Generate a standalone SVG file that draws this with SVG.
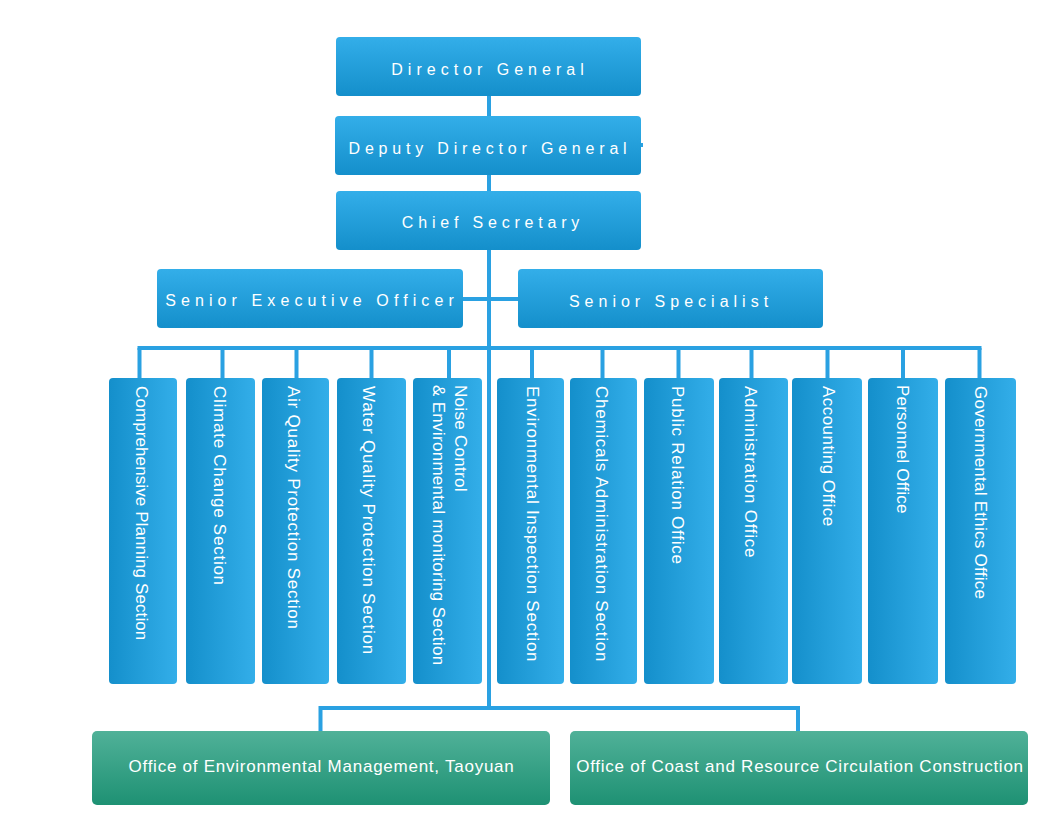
<svg xmlns="http://www.w3.org/2000/svg" width="1057" height="835" viewBox="0 0 1057 835">
<defs>
<linearGradient id="gTop" x1="0" y1="0" x2="0" y2="1"><stop offset="0" stop-color="#33aee9"/><stop offset="1" stop-color="#148fcb"/></linearGradient>
<linearGradient id="gCol" x1="0" y1="0" x2="1" y2="0"><stop offset="0" stop-color="#148fcb"/><stop offset="1" stop-color="#33aee9"/></linearGradient>
<linearGradient id="gGreen" x1="0" y1="0" x2="0" y2="1"><stop offset="0" stop-color="#50b198"/><stop offset="1" stop-color="#1e9173"/></linearGradient>
</defs>
<style>
.top{fill:url(#gTop)}
.col{fill:url(#gCol)}
.grn{fill:url(#gGreen)}
.t{font-family:"Liberation Sans",Arial,sans-serif;fill:#fff}
.ht{font-size:16px;letter-spacing:5px;text-anchor:middle}
.vt{font-size:17px;letter-spacing:0.75px}
.gt{font-size:17px;letter-spacing:0.75px;text-anchor:middle}
.ln{stroke:#2aa1e2;stroke-width:4;fill:none}
</style>
<rect width="1057" height="835" fill="#fff"/>
<g id="connectors">
<line class="ln" x1="489" y1="96" x2="489" y2="708"/>
<line class="ln" x1="463" y1="299" x2="518" y2="299"/>
<line class="ln" x1="137.5" y1="348" x2="981.5" y2="348"/>
<path class="ln" d="M139.5 348V378M222.5 348V378M296.5 348V378M371.5 348V378M449 348V378M532 348V378M602.5 348V378M678.5 348V378M751.5 348V378M827.5 348V378M903 348V378M979.5 348V378"/>
<path class="ln" d="M320.5 731V708H798V731"/>
<rect x="641" y="143" width="2" height="4" fill="#2aa1e2"/>
</g>
<g id="director-general"><rect class="top" x="336" y="37" width="305" height="59" rx="4"/><text class="t ht" x="490" y="75">Director General</text></g>
<g id="deputy-director-general"><rect class="top" x="335" y="116" width="306" height="59" rx="4"/><text class="t ht" style="letter-spacing:4.8px" x="490" y="154">Deputy Director General</text></g>
<g id="chief-secretary"><rect class="top" x="336" y="191" width="305" height="59" rx="4"/><text class="t ht" style="letter-spacing:4.8px" x="493" y="228">Chief Secretary</text></g>
<g id="senior-executive-officer"><rect class="top" x="157" y="269" width="306" height="59" rx="4"/><text class="t ht" style="letter-spacing:5.1px" x="312" y="306">Senior Executive Officer</text></g>
<g id="senior-specialist"><rect class="top" x="518" y="269" width="305" height="59" rx="4"/><text class="t ht" x="671" y="307">Senior Specialist</text></g>
<g id="s1"><rect class="col" x="109" y="378" width="68" height="306" rx="4"/><text class="t vt" style="letter-spacing:0.1px" transform="translate(136,386) rotate(90)">Comprehensive Planning Section</text></g>
<g id="s2"><rect class="col" x="186" y="378" width="69" height="306" rx="4"/><text class="t vt" transform="translate(214,386) rotate(90)">Climate Change Section</text></g>
<g id="s3"><rect class="col" x="262" y="378" width="67" height="306" rx="4"/><text class="t vt" transform="translate(288,386) rotate(90)">Air Quality Protection Section</text></g>
<g id="s4"><rect class="col" x="337" y="378" width="69" height="306" rx="4"/><text class="t vt" transform="translate(363,386) rotate(90)">Water Quality Protection Section</text></g>
<g id="s5"><rect class="col" x="413" y="378" width="69" height="306" rx="4"/><text class="t vt" style="letter-spacing:0.3px" transform="translate(455,385) rotate(90)"><tspan x="0" y="0">Noise Control</tspan><tspan x="0" y="22">&amp; Environmental monitoring Section</tspan></text></g>
<g id="s6"><rect class="col" x="497" y="378" width="67" height="306" rx="4"/><text class="t vt" transform="translate(527,386) rotate(90)">Environmental Inspection Section</text></g>
<g id="s7"><rect class="col" x="570" y="378" width="67" height="306" rx="4"/><text class="t vt" transform="translate(596,386) rotate(90)">Chemicals Administration Section</text></g>
<g id="s8"><rect class="col" x="644" y="378" width="70" height="306" rx="4"/><text class="t vt" transform="translate(672,386) rotate(90)">Public Relation Office</text></g>
<g id="s9"><rect class="col" x="719" y="378" width="69" height="306" rx="4"/><text class="t vt" transform="translate(745,386) rotate(90)">Administration Office</text></g>
<g id="s10"><rect class="col" x="792" y="378" width="70" height="306" rx="4"/><text class="t vt" style="letter-spacing:0.45px" transform="translate(823,386) rotate(90)">Accounting Office</text></g>
<g id="s11"><rect class="col" x="868" y="378" width="70" height="306" rx="4"/><text class="t vt" style="letter-spacing:0.2px" transform="translate(897,385) rotate(90)">Personnel Office</text></g>
<g id="s12"><rect class="col" x="945" y="378" width="71" height="306" rx="4"/><text class="t vt" style="letter-spacing:0.25px" transform="translate(975,386) rotate(90)">Governmental Ethics Office</text></g>
<g id="taoyuan"><rect class="grn" x="92" y="731" width="458" height="74" rx="5"/><text class="t gt" x="321.5" y="772">Office of Environmental Management, Taoyuan</text></g>
<g id="coast"><rect class="grn" x="570" y="731" width="458" height="74" rx="5"/><text class="t gt" x="800" y="772">Office of Coast and Resource Circulation Construction</text></g>
</svg>
